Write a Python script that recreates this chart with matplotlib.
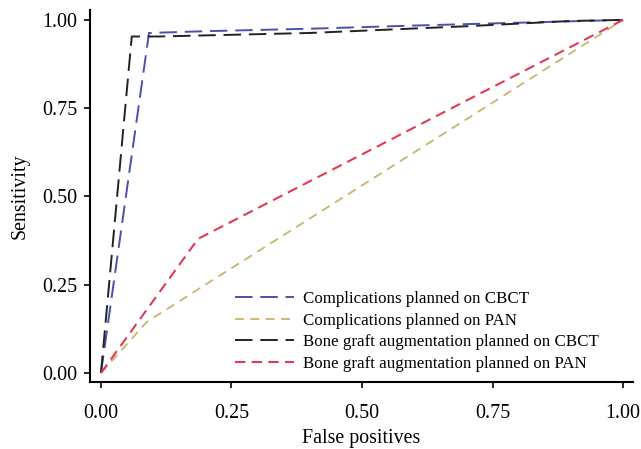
import matplotlib.pyplot as plt

plt.rcParams['font.family'] = ['Liberation Serif', 'DejaVu Serif']

# ROC curves
cbct_comp_x = [0.0, 0.092, 0.2, 0.4, 0.6, 0.8, 1.0]
cbct_comp_y = [0.0, 0.963, 0.968, 0.975, 0.984, 0.992, 1.0]

pan_comp_x = [0.0, 0.088, 1.0]
pan_comp_y = [0.0, 0.145, 1.0]

cbct_bone_x = [0.0, 0.059, 0.11, 0.4, 0.7, 0.9, 1.0]
cbct_bone_y = [0.0, 0.953, 0.953, 0.963, 0.982, 0.997, 1.0]

pan_bone_x = [0.0, 0.186, 1.0]
pan_bone_y = [0.0, 0.38, 1.0]

labels = ['Complications planned on CBCT', 'Complications planned on PAN',
          'Bone graft augmentation planned on CBCT', 'Bone graft augmentation planned on PAN']
ticks = [0.0, 0.25, 0.5, 0.75, 1.0]

fig = plt.figure(figsize=(6.41, 4.49), dpi=100)
ax = fig.add_axes([0.1404, 0.1492, 0.8471, 0.8285])

ax.plot(cbct_comp_x, cbct_comp_y, color='#4b4fae', lw=1.4, dashes=(9, 4), label=labels[0])
ax.plot(pan_comp_x, pan_comp_y, color='#c9b46e', lw=1.3, dashes=(5, 3.5), label=labels[1])
ax.plot(cbct_bone_x, cbct_bone_y, color='#222222', lw=1.4, dashes=(9, 4), label=labels[2])
ax.plot(pan_bone_x, pan_bone_y, color='#e23a55', lw=1.5, dashes=(5, 3), label=labels[3])

ax.set_xlim(-0.021, 1.019)
ax.set_ylim(-0.0255, 1.028)
ax.set_xticks(ticks)
ax.set_yticks(ticks)
ax.set_xticklabels(['%.2f' % t for t in ticks], fontsize=14.4)
ax.set_yticklabels(['%.2f' % t for t in ticks], fontsize=14.4)
ax.tick_params(length=4, width=1.2)
ax.tick_params(axis='x', pad=12)
ax.tick_params(axis='y', pad=5)

for s in ['top', 'right']:
    ax.spines[s].set_visible(False)
for s in ['left', 'bottom']:
    ax.spines[s].set_linewidth(1.5)

ax.set_xlabel('False positives', fontsize=14.3, labelpad=4)
ax.set_ylabel('Sensitivity', fontsize=14.3, labelpad=9)

ax.legend(loc='lower left', bbox_to_anchor=(235 / 641, 1 - 372 / 449), bbox_transform=fig.transFigure,
          frameon=False, fontsize=12.2, borderpad=0, borderaxespad=0,
          handlelength=3.5, labelspacing=0.33, handletextpad=0.5)

fig.savefig('out.png', dpi=100)
